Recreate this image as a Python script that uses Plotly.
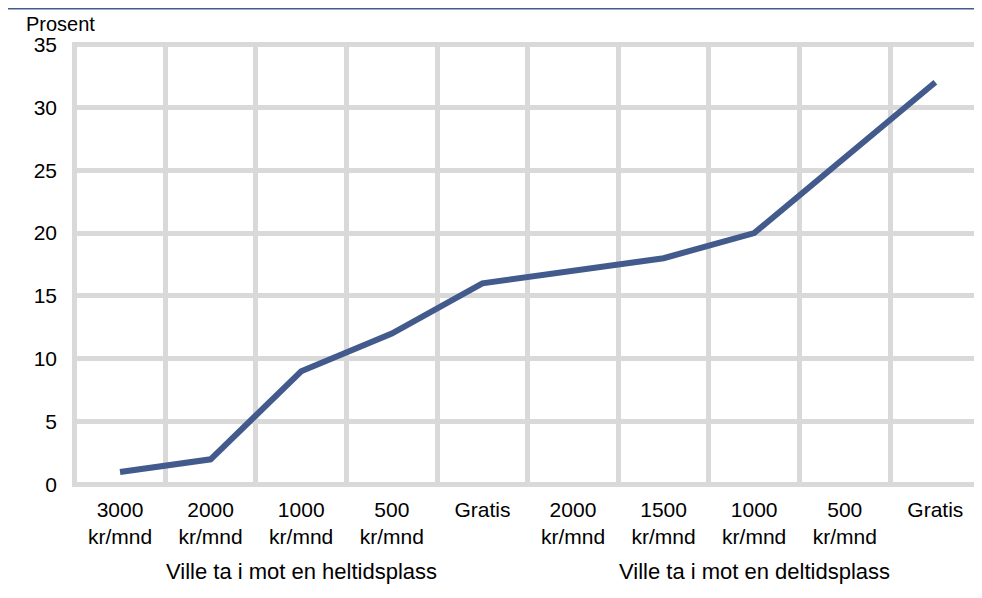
import plotly.graph_objects as go

categories = ["3000<br>kr/mnd", "2000<br>kr/mnd", "1000<br>kr/mnd", "500<br>kr/mnd", "Gratis",
              "2000<br>kr/mnd", "1500<br>kr/mnd", "1000<br>kr/mnd", "500<br>kr/mnd", "Gratis"]
values = [1, 2, 9, 12, 16, 17, 18, 20, 26, 32]
groups = ["Ville ta i mot en heltidsplass", "Ville ta i mot en deltidsplass"]
y_ticks = [0, 5, 10, 15, 20, 25, 30, 35]

LINE = "#435B8C"
GRID = "#D9D9D9"
FONT = "Liberation Sans, Arial, sans-serif"

n = len(categories)
xs = list(range(n))
bounds = [i - 0.5 for i in range(n + 1)]
x_range = [-0.53, n - 0.5 + 0.015]
y_range = [-0.2, 35.2]

# page has an 8px body margin: compensate
W, H = 974, 578
ML, MT, MR, MB = 64, 34, 0, 99
PW, PH = W - ML - MR, H - MT - MB

fig = go.Figure()
fig.add_trace(go.Scatter(x=xs, y=values, mode="lines",
                         line=dict(color=LINE, width=6), xaxis="x", yaxis="y",
                         hoverinfo="skip", showlegend=False))
fig.add_trace(go.Scatter(x=xs, y=values, mode="lines", line=dict(width=0),
                         xaxis="x2", yaxis="y", hoverinfo="skip", showlegend=False))

fig.update_layout(
    width=W, height=H,
    margin=dict(l=ML, r=MR, t=MT, b=MB),
    paper_bgcolor="white", plot_bgcolor="white",
    font=dict(family=FONT, size=21, color="#000000"),
    xaxis=dict(range=x_range, tickvals=bounds, showticklabels=False,
               showgrid=True, gridcolor=GRID, gridwidth=5, zeroline=False,
               showline=False, ticks=""),
    xaxis2=dict(range=x_range, overlaying="x", side="bottom",
                tickvals=xs, ticktext=categories, showgrid=False, zeroline=False,
                showline=False, ticks="", tickfont=dict(size=21), ticklabelstandoff=8),
    yaxis=dict(range=y_range, tickvals=y_ticks, showgrid=True, gridcolor=GRID,
               gridwidth=5, zeroline=False, showline=False, ticks="",
               ticklabelstandoff=14, tickfont=dict(size=21)),
    shapes=[dict(type="line", xref="paper", yref="paper", x0=-ML / PW, x1=1.0,
                 y0=1 + MT / PH, y1=1 + MT / PH, line=dict(color=LINE, width=3))],
    annotations=[
        dict(text="Prosent", xref="paper", yref="paper", x=(52 - ML) / PW,
             y=1 + (MT - 16) / PH, xanchor="center", yanchor="middle",
             showarrow=False, font=dict(size=20)),
        dict(text=groups[0], xref="x", yref="paper", x=(0 + 4) / 2,
             y=-(563 - MT - PH) / PH, xanchor="center", yanchor="middle",
             showarrow=False, font=dict(size=22)),
        dict(text=groups[1], xref="x", yref="paper", x=(5 + 9) / 2,
             y=-(563 - MT - PH) / PH, xanchor="center", yanchor="middle",
             showarrow=False, font=dict(size=22)),
    ],
)

fig.write_html("out.html")
